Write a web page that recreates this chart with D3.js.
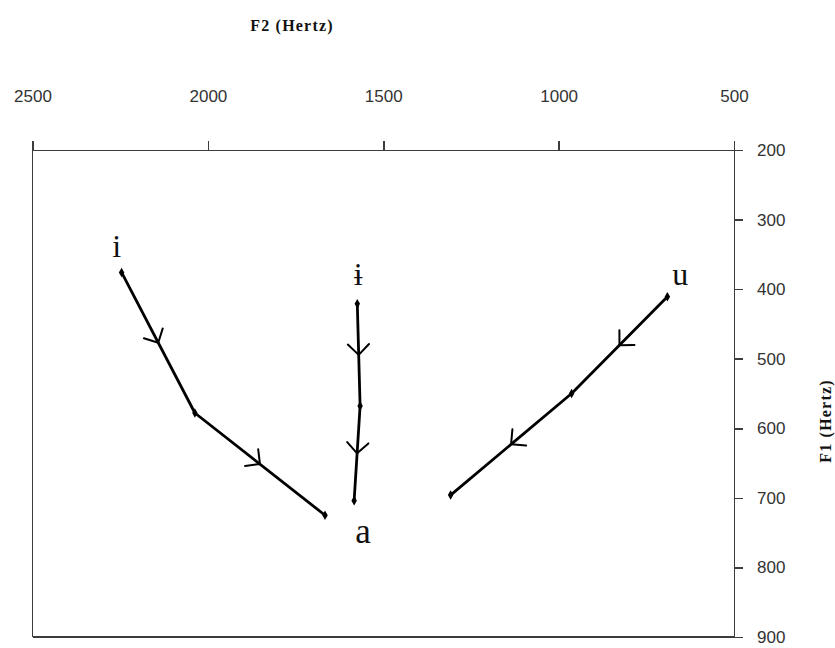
<!DOCTYPE html>
<html>
  <head>
    <meta charset="utf-8"/>
    <script type="text/javascript" src="https://cdnjs.cloudflare.com/ajax/libs/d3/7.8.5/d3.min.js"></script>
    <style type="text/css">

html, body {
  margin: 0;
  padding: 0;
  background: #fff;
}

svg {
  display: block;
}

.axis path, .axis line, .frame {
  stroke: #3c3c3c;
  stroke-width: 1.5px;
  fill: none;
  shape-rendering: crispEdges;
}

.axis text {
  font: 17px "Liberation Sans", sans-serif;
  fill: #333;
}

.title {
  font: bold 16px "Liberation Serif", serif;
  letter-spacing: 1.2px;
  fill: #111;
}

.track {
  fill: none;
  stroke: #000;
  stroke-width: 2.8px;
  stroke-linejoin: round;
}

.arrow {
  fill: none;
  stroke: #000;
  stroke-width: 2px;
  stroke-linecap: round;
  stroke-linejoin: round;
}

.vowel {
  font-family: "Liberation Serif", "DejaVu Serif", serif;
  fill: #111;
}

    </style>
  </head>
  <body>
    <div id="chart"></div>
    <script type="text/javascript">

// F2 / F1 readings (Hz) for each glide, start -> middle -> end
var iToAF2 = [2246, 2037, 1666];
var iToAF1 = [376, 578, 725];
var barIF2 = [1574, 1566, 1583];
var barIF1 = [421, 568, 704];
var uF2 = [690, 963, 1308];
var uF1 = [411, 550, 696];

var f2Ticks = [2500, 2000, 1500, 1000, 500];
var f1Ticks = [200, 300, 400, 500, 600, 700, 800, 900];

var width = 835,
    height = 648;

var svg = d3.select("#chart").append("svg")
    .attr("width", width)
    .attr("height", height);

// reversed axes, as usual for a vowel chart
var x = d3.scaleLinear().domain([2500, 500]).range([32.5, 734]);
var y = d3.scaleLinear().domain([200, 900]).range([150, 637]);

svg.append("g")
    .attr("class", "axis")
    .attr("transform", "translate(0," + y(200) + ")")
    .call(d3.axisTop(x).tickValues(f2Ticks).tickFormat(d3.format("d"))
      .tickSize(9).tickSizeOuter(0).tickPadding(39));

svg.append("g")
    .attr("class", "axis")
    .attr("transform", "translate(" + x(500) + ",0)")
    .call(d3.axisRight(y).tickValues(f1Ticks).tickFormat(d3.format("d"))
      .tickSize(9).tickSizeOuter(0).tickPadding(14));

// left and bottom edges of the box
svg.append("line").attr("class", "frame")
    .attr("x1", x(2500)).attr("x2", x(2500))
    .attr("y1", y(200)).attr("y2", y(900));
svg.append("line").attr("class", "frame")
    .attr("x1", x(2500)).attr("x2", x(500))
    .attr("y1", y(900)).attr("y2", y(900));

svg.append("text")
    .attr("class", "title")
    .attr("x", 292)
    .attr("y", 31)
    .attr("text-anchor", "middle")
    .text("F2 (Hertz)");

svg.append("text")
    .attr("class", "title")
    .attr("transform", "translate(831,421) rotate(-90)")
    .attr("text-anchor", "middle")
    .text("F1 (Hertz)");

var tracks = [
  {f2: iToAF2, f1: iToAF1},
  {f2: barIF2, f1: barIF1},
  {f2: uF2, f1: uF1}
];

var line = d3.line()
    .x(function(d) { return x(d[0]); })
    .y(function(d) { return y(d[1]); });

tracks.forEach(function(t) {
  var pts = d3.zip(t.f2, t.f1);

  svg.append("path")
      .attr("class", "track")
      .attr("d", line(pts));

  svg.selectAll(null)
      .data(pts)
    .enter().append("path")
      .attr("d", d3.symbol(d3.symbolDiamond, 26))
      .attr("transform", function(d) { return "translate(" + x(d[0]) + "," + y(d[1]) + ")"; });

  // open arrowhead halfway along each segment
  d3.pairs(pts).forEach(function(p) {
    var x0 = x(p[0][0]), y0 = y(p[0][1]),
        x1 = x(p[1][0]), y1 = y(p[1][1]);
    var mx = (x0 + x1) / 2, my = (y0 + y1) / 2;
    var back = Math.atan2(y0 - y1, x0 - x1),
        len = 15,
        spread = Math.PI / 4;
    var path = d3.path();
    path.moveTo(mx + len * Math.cos(back - spread), my + len * Math.sin(back - spread));
    path.lineTo(mx, my);
    path.lineTo(mx + len * Math.cos(back + spread), my + len * Math.sin(back + spread));
    svg.append("path")
        .attr("class", "arrow")
        .attr("d", path.toString());
  });
});

// vowel symbols next to the track ends
var vowels = [
  {text: "i", f2: iToAF2[0], f1: iToAF1[0], dx: -5, dy: -15, size: 32},
  {text: "\u0268", f2: barIF2[0], f1: barIF1[0], dx: 1, dy: -19, size: 32},
  {text: "u", f2: uF2[0], f1: uF1[0], dx: 13, dy: -12, size: 32},
  {text: "a", f2: barIF2[2], f1: barIF1[2], dx: 9, dy: 42, size: 35}
];

svg.selectAll(".vowel")
    .data(vowels)
  .enter().append("text")
    .attr("class", "vowel")
    .attr("x", function(d) { return x(d.f2) + d.dx; })
    .attr("y", function(d) { return y(d.f1) + d.dy; })
    .attr("text-anchor", "middle")
    .style("font-size", function(d) { return d.size + "px"; })
    .text(function(d) { return d.text; })

    </script>
  </body>
</html>
